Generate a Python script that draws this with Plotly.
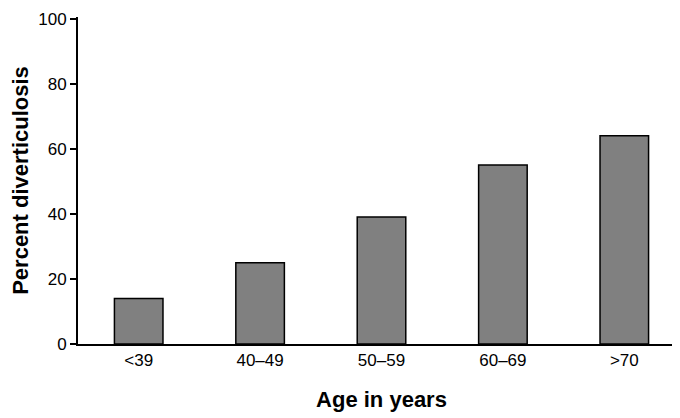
import plotly.graph_objects as go

age_groups = ["<39", "40–49", "50–59", "60–69", ">70"]
percent = [14, 25, 39, 55, 64]

fig = go.Figure()
fig.add_trace(go.Bar(
    x=age_groups, y=percent,
    marker=dict(color="#808080", line=dict(color="black", width=1.5)),
    width=0.4,
))

fig.update_layout(
    width=680, height=418,
    margin=dict(l=70, r=3, t=9, b=82),
    plot_bgcolor="white", paper_bgcolor="white",
    font=dict(family="Liberation Sans, Arial", size=17, color="black"),
    showlegend=False,
)
fig.update_xaxes(
    title=dict(text="<b>Age in years</b>", font=dict(size=22), standoff=22),
    showline=True, linecolor="black", linewidth=2,
    ticks="", showgrid=False, automargin=False,
)
fig.update_yaxes(
    title=dict(text="<b>Percent diverticulosis</b>", font=dict(size=22), standoff=6),
    range=[0, 100.5], tickvals=[0, 20, 40, 60, 80, 100],
    showline=True, linecolor="black", linewidth=2,
    ticks="outside", ticklen=6, tickwidth=2, tickcolor="black",
    showgrid=False, zeroline=False, automargin=False,
)

fig.write_html("out.html")
